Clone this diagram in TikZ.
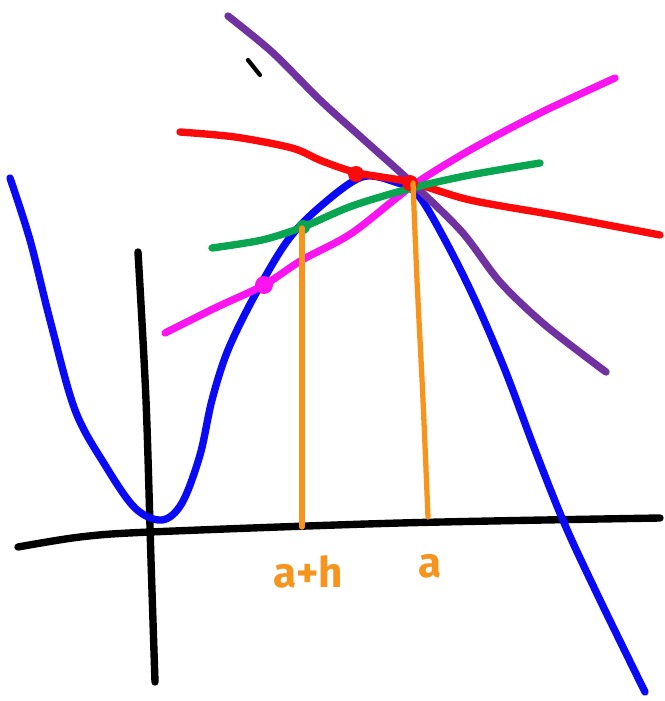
\documentclass[tikz,border=0pt]{standalone}
\usepackage{fontspec}
\setsansfont{Fira Sans}
\definecolor{penblue}{RGB}{10, 10, 245}
\definecolor{penred}{RGB}{250, 10, 10}
\definecolor{penmagenta}{RGB}{250, 20, 240}
\definecolor{pengreen}{RGB}{10, 165, 80}
\definecolor{penpurple}{RGB}{112, 50, 160}
\definecolor{penorange}{RGB}{247, 148, 30}
\begin{document}
\begin{tikzpicture}[x=0.02cm, y=-0.02cm,
        pen/.style={line width=4.2pt, line cap=round, line join=round},
        every node/.style={font=\sffamily\bfseries\fontsize{24}{24}\selectfont, text=penorange, inner sep=0pt}
      ]
        \useasboundingbox (0,0) rectangle (665,701);
        % axes
        \draw[pen, black] plot[smooth, tension=0.5] coordinates {(18,547) (80,537) (150,532) (400,523) (660,518)};
        \draw[pen, black] plot[smooth, tension=0.5] coordinates {(138,252) (146,400) (151,560) (155,682)};
        \draw[line width=2.4pt, line cap=round, black] (248,60) -- (260,75);
        % the function
        \draw[pen, penblue] plot[smooth, tension=0.55] coordinates {(10,178) (30,240) (50,320) (75,410) (105,465) (135,508) (162,520) (182,503) (200,455) (212,400) (228,350) (255,295) (288,240) (322,205) (362,177) (395,182) (418,195) (445,240) (475,300) (505,370) (535,450) (565,525) (600,600) (645,692)};
        % secant lines through (a, f(a))
        \draw[pen, penpurple] plot[smooth, tension=0.5] coordinates {(228,16) (272,52) (320,100) (362,138) (412,183) (462,232) (500,282) (545,325) (606,372)};
        \draw[pen, penred] plot[smooth, tension=0.5] coordinates {(180,132) (235,137) (292,148) (322,161) (358,173) (410,182) (470,200) (560,216) (660,235)};
        \draw[pen, penmagenta] plot[smooth, tension=0.5] coordinates {(165,333) (215,308) (264,285) (302,260) (352,233) (412,186) (470,150) (540,113) (615,78)};
        \draw[pen, pengreen] plot[smooth, tension=0.5] coordinates {(212,248) (262,240) (303,227) (352,206) (412,188) (470,175) (540,163)};
        % marked points
        \fill[penmagenta] (264,285) circle (9);
        \fill[pengreen] (303,227) circle (7);
        \fill[penred] (356,174) circle (8);
        \fill[penred] (410,183) circle (8);
        % vertical lines down to the axis
        \draw[line width=3pt, line cap=round, penorange] (302,228) -- (302,527);
        \draw[line width=3pt, line cap=round, penorange] plot[smooth, tension=0.5] coordinates {(413,183) (417,280) (423,400) (428,517)};
        % labels
        \node (ah) at (308,572) {a+h};
        \node (a) at (430,566) {a};
      \end{tikzpicture}
\end{document}
